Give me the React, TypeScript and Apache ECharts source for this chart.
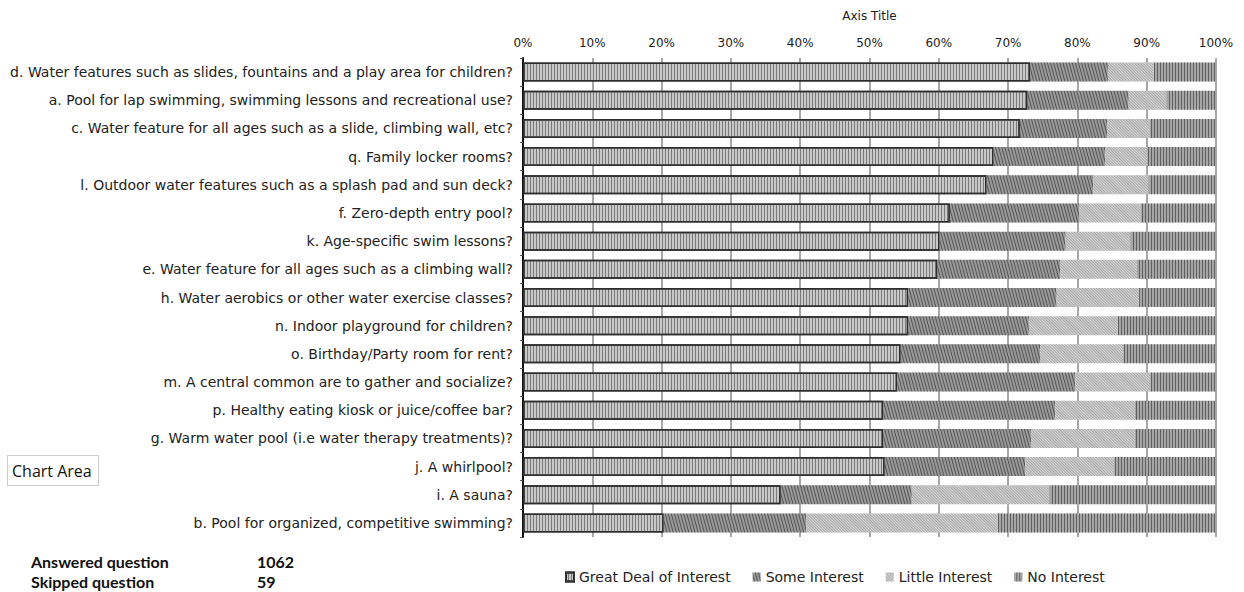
import React, { useEffect, useRef } from "react";
import * as echarts from "echarts";

// Survey questions, top to bottom
const categories = [
  "d. Water features such as slides, fountains and a play area for children?",
  "a. Pool for lap swimming, swimming lessons and recreational use?",
  "c. Water feature for all ages such as a slide, climbing wall, etc?",
  "q. Family locker rooms?",
  "l. Outdoor water features such as a splash pad and sun deck?",
  "f. Zero-depth entry pool?",
  "k. Age-specific swim lessons?",
  "e. Water feature for all ages such as a climbing wall?",
  "h. Water aerobics or other water exercise classes?",
  "n. Indoor playground for children?",
  "o. Birthday/Party room for rent?",
  "m. A central common are to gather and socialize?",
  "p. Healthy eating kiosk or juice/coffee bar?",
  "g. Warm water pool (i.e water therapy treatments)?",
  "j. A whirlpool?",
  "i. A sauna?",
  "b. Pool for organized, competitive swimming?",
];

// Share of respondents (%) per answer
const greatDeal = [73.2, 72.8, 71.7, 67.9, 66.9, 61.6, 60.1, 59.8, 55.6, 55.6, 54.5, 54.0, 52.0, 52.0, 52.2, 37.2, 20.3];
const someInterest = [11.2, 14.6, 12.6, 16.1, 15.4, 18.7, 18.2, 17.7, 21.4, 17.4, 20.1, 25.7, 24.8, 21.3, 20.3, 18.9, 20.6];
const littleInterest = [6.6, 5.5, 6.1, 6.1, 8.0, 8.8, 9.4, 11.1, 11.9, 12.8, 12.0, 10.8, 11.5, 15.0, 12.8, 19.9, 27.6];
const noInterest = [9.0, 7.1, 9.6, 9.9, 9.7, 10.9, 12.3, 11.4, 11.1, 14.2, 13.4, 9.5, 11.7, 11.7, 14.7, 24.0, 31.5];

const seriesNames = ["Great Deal of Interest", "Some Interest", "Little Interest", "No Interest"];

const answeredCount = 1062;
const skippedCount = 59;

const FONT = "'DejaVu Sans', Verdana, sans-serif";
const BOLD = "bold 16px Lato, sans-serif";

export default function App() {
  const ref = useRef<HTMLDivElement>(null);

  useEffect(() => {
    if (!ref.current) return;
    const chart = echarts.init(ref.current, undefined, { renderer: "svg" });

    const stripes = (color: string, dash: number[], rotation: number) => ({
      color,
      backgroundColor: "rgba(0,0,0,0)",
      dashArrayX: [1, 0],
      dashArrayY: dash,
      rotation,
      symbolSize: 1,
    });

    const base = {
      type: "bar" as const,
      stack: "total",
      barWidth: 19,
      emphasis: { disabled: true },
    };

    chart.setOption({
      animation: false,
      backgroundColor: "#ffffff",
      textStyle: { fontFamily: FONT },
      grid: { left: 523, right: 28, top: 58, bottom: 55, containLabel: false },
      legend: {
        top: 565,
        left: 560,
        itemWidth: 8,
        itemHeight: 9,
        itemGap: 22,
        icon: "rect",
        textStyle: { fontFamily: FONT, fontSize: 14, color: "#222" },
        data: seriesNames,
      },
      xAxis: {
        type: "value",
        position: "top",
        min: 0,
        max: 100,
        interval: 10,
        name: "Axis Title",
        nameLocation: "middle",
        nameGap: 36,
        nameTextStyle: { fontFamily: FONT, fontSize: 12, color: "#222" },
        axisLine: { show: false },
        axisTick: { show: false },
        axisLabel: { formatter: "{value}%", fontSize: 12, color: "#222", margin: 9 },
        splitLine: { show: true, lineStyle: { color: "#8a8a8a", width: 1.5 } },
      },
      yAxis: {
        type: "category",
        inverse: true,
        data: categories,
        axisLine: { show: true, lineStyle: { color: "#111", width: 2 } },
        axisTick: { show: true, length: 3, lineStyle: { color: "#555" } },
        axisLabel: { fontSize: 14, color: "#222", margin: 10 },
      },
      series: [
        {
          ...base,
          name: seriesNames[0],
          data: greatDeal,
          itemStyle: {
            color: "#c8c8c8",
            borderColor: "#2e2e2e",
            borderWidth: 1.5,
            decal: stripes("rgba(60,60,60,0.55)", [1, 1.2], Math.PI / 2),
          },
        },
        {
          ...base,
          name: seriesNames[1],
          data: someInterest,
          itemStyle: {
            color: "#9a9a9a",
            decal: stripes("rgba(40,40,40,0.6)", [1, 1.4], Math.PI / 2.4),
          },
        },
        {
          ...base,
          name: seriesNames[2],
          data: littleInterest,
          itemStyle: {
            color: "#d6d6d6",
            decal: stripes("rgba(80,80,80,0.35)", [1, 1], Math.PI / 4),
          },
        },
        {
          ...base,
          name: seriesNames[3],
          data: noInterest,
          itemStyle: {
            color: "#a6a6a6",
            decal: stripes("rgba(50,50,50,0.6)", [1, 1.2], Math.PI / 2),
          },
        },
      ],
      graphic: [
        {
          type: "rect",
          shape: { x: 7.5, y: 455.5, width: 91, height: 30 },
          style: { fill: "#fff", stroke: "#999", lineWidth: 1, lineDash: [1, 1] },
        },
        {
          type: "text",
          x: 12,
          y: 471,
          style: {
            text: "Chart Area",
            font: "16px 'Open Sans', sans-serif",
            fill: "#111",
            verticalAlign: "middle",
          },
        },
        {
          type: "text",
          x: 31,
          y: 561,
          style: { text: "Answered question", font: BOLD, fill: "#111", verticalAlign: "middle" },
        },
        {
          type: "text",
          x: 257,
          y: 561,
          style: { text: String(answeredCount), font: BOLD, fill: "#111", verticalAlign: "middle" },
        },
        {
          type: "text",
          x: 31,
          y: 581,
          style: { text: "Skipped question", font: BOLD, fill: "#111", verticalAlign: "middle" },
        },
        {
          type: "text",
          x: 257,
          y: 581,
          style: { text: String(skippedCount), font: BOLD, fill: "#111", verticalAlign: "middle" },
        },
      ],
    });

    return () => chart.dispose();
  }, []);

  return (
    <div
      ref={ref}
      style={{ position: "absolute", left: 0, top: 0, width: 1244, height: 592 }}
    />
  );
}
